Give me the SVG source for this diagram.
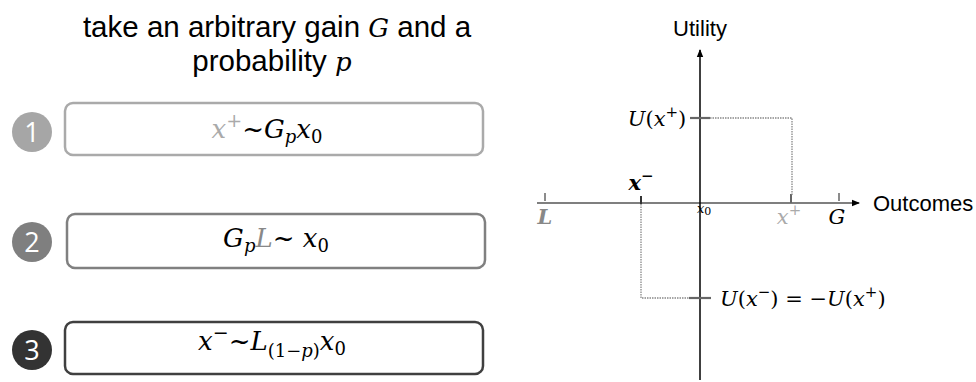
<svg xmlns="http://www.w3.org/2000/svg" width="976" height="382" viewBox="0 0 976 382">
<style>
.sans{font-family:"Liberation Sans",Arial,sans-serif}
.m{font-family:"DejaVu Serif","Liberation Serif",serif;font-style:italic}
.r{font-style:normal}
.num{font-family:"Open Sans","Liberation Sans",Arial,sans-serif;font-size:27px;fill:#fff;text-anchor:middle}
.box{fill:#fff;stroke-width:2.5}
.dot{stroke:#888;stroke-width:1.3;stroke-dasharray:1.5 1;fill:none}
.tick{stroke:#666;stroke-width:1.5}
</style>
<defs>
<marker id="ah" markerWidth="8" markerHeight="8" refX="7" refY="4" orient="auto" markerUnits="userSpaceOnUse">
<path d="M0,0.8 L8,4 L0,7.2 Z" fill="#000"/>
</marker>
</defs>
<rect width="976" height="382" fill="#fff"/>

<g id="title">
<text class="sans" x="277" y="37" font-size="29.5" text-anchor="middle">take an arbitrary gain <tspan class="m" font-size="26">G</tspan> and a</text>
<text class="sans" x="272" y="71" font-size="29.5" text-anchor="middle">probability <tspan class="m" font-size="26">p</tspan></text>
</g>

<g id="step1">
<circle cx="32" cy="132" r="20" fill="#a6a6a6"/>
<text class="num" x="32" y="141.5">1</text>
<rect class="box" x="65" y="103" width="418" height="52" rx="8" stroke="#aaaaaa"/>
<text class="m" x="267" y="138" font-size="26" text-anchor="middle"><tspan fill="#aaa">x</tspan><tspan fill="#aaa" class="r" font-size="19" dy="-11">+</tspan><tspan class="r" dy="11">~</tspan>G<tspan font-size="18" dy="5">p</tspan><tspan dy="-5">x</tspan><tspan class="r" font-size="18" dy="5">0</tspan></text>
</g>

<g id="step2">
<circle cx="32" cy="242" r="20" fill="#7f7f7f"/>
<text class="num" x="32" y="251.5">2</text>
<rect class="box" x="67" y="214" width="418" height="54" rx="8" stroke="#808080"/>
<text class="m" x="276" y="247" font-size="26" text-anchor="middle">G<tspan font-size="18" dy="5">p</tspan><tspan dy="-5" fill="#888">L</tspan><tspan class="r">~ </tspan>x<tspan class="r" font-size="18" dy="5">0</tspan></text>
</g>

<g id="step3">
<circle cx="32" cy="350" r="20" fill="#333333"/>
<text class="num" x="32" y="359.5">3</text>
<rect class="box" x="65" y="322" width="418" height="52" rx="8" stroke="#404040"/>
<text class="m" x="272" y="350" font-size="26" text-anchor="middle">x<tspan class="r" font-size="19" dy="-11">−</tspan><tspan class="r" dy="11">~</tspan>L<tspan font-size="18" dy="7"><tspan class="r">(1−</tspan>p<tspan class="r">)</tspan></tspan><tspan dy="-7">x</tspan><tspan class="r" font-size="18" dy="5">0</tspan></text>
</g>

<g id="axes">
<line x1="537" y1="203" x2="859" y2="203" stroke="#555" stroke-width="1.5" marker-end="url(#ah)"/>
<line x1="700" y1="380" x2="700" y2="50" stroke="#000" stroke-width="1.5" marker-end="url(#ah)"/>
<text class="sans" x="700" y="36" font-size="22" text-anchor="middle">Utility</text>
<text class="sans" x="873" y="211" font-size="22">Outcomes</text>
</g>

<g id="ticks">
<line class="tick" x1="545" y1="193" x2="545" y2="201"/>
<line class="tick" x1="641" y1="196" x2="641" y2="204" style="stroke:#333;stroke-width:2"/>
<line class="tick" x1="791" y1="194" x2="791" y2="203" style="stroke-width:2"/>
<line class="tick" x1="839" y1="193" x2="839" y2="201"/>
<line class="tick" x1="690" y1="118" x2="710" y2="118" style="stroke-width:2.2"/>
<line class="tick" x1="689" y1="298" x2="711" y2="298" style="stroke-width:2.2"/>
</g>

<g id="guides">
<polyline class="dot" points="710,118 792,118 792,196"/>
<polyline class="dot" points="641,204 641,298 689,298"/>
</g>

<g id="labels">
<text class="m" x="657" y="126" font-size="21" text-anchor="middle">U<tspan class="r">(</tspan>x<tspan class="r" font-size="15" dy="-9">+</tspan><tspan class="r" dy="9">)</tspan></text>
<text class="m" x="720" y="306" font-size="21">U<tspan class="r">(</tspan>x<tspan class="r" font-size="15" dy="-9">−</tspan><tspan class="r" dy="9">) = −</tspan>U<tspan class="r">(</tspan>x<tspan class="r" font-size="15" dy="-9">+</tspan><tspan class="r" dy="9">)</tspan></text>
<text class="m" x="641" y="190" font-size="21" font-weight="bold" text-anchor="middle">x<tspan class="r" font-size="15" dy="-9">−</tspan></text>
<text class="m" x="545" y="224" font-size="21" font-weight="bold" fill="#888" text-anchor="middle">L</text>
<text class="m" x="697" y="213" font-size="13">x<tspan class="r" font-size="11" dy="2">0</tspan></text>
<text class="m" x="789" y="224" font-size="21" fill="#aaa" text-anchor="middle">x<tspan class="r" font-size="15" dy="-9">+</tspan></text>
<text class="m" x="837" y="224" font-size="21" text-anchor="middle">G</text>
</g>
</svg>
